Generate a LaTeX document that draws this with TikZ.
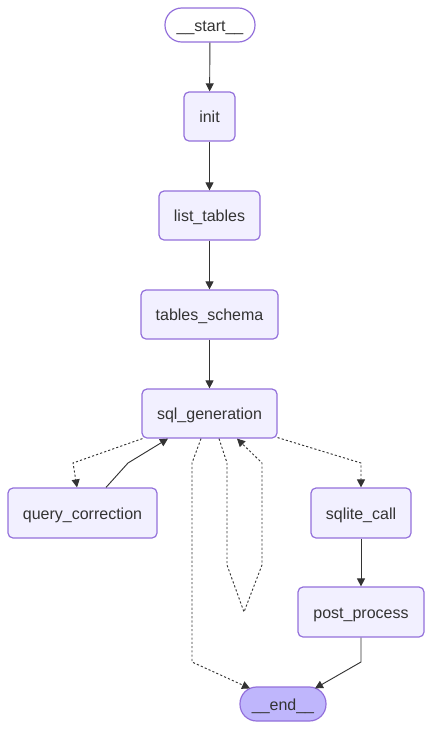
\documentclass[tikz,border=0pt]{standalone}
\usepackage{fontspec}
\setmainfont{Liberation Sans}
\usetikzlibrary{arrows.meta,calc}
\definecolor{nodefill}{HTML}{F2F0FF}
\definecolor{nodestroke}{HTML}{9370DB}
\definecolor{endfill}{HTML}{BFB6FC}
\definecolor{linecol}{HTML}{333333}
\begin{document}
\begin{tikzpicture}[x=0.75pt,y=-0.75pt,
  box/.style={draw=nodestroke,fill=nodefill,line width=0.9pt,rounded corners=3.75pt,inner sep=0pt,
    minimum height=36.75pt,text=linecol,font=\fontsize{12}{14}\selectfont,
    text height=1.02em,text depth=0.08em},
  term/.style={box,rounded corners=12.5pt,minimum height=25.5pt},
  edge/.style={draw=linecol,line width=0.7pt,-{Triangle[length=6pt,width=6pt]}},
  dedge/.style={edge,dash pattern=on 1.6pt off 1.6pt}]
\useasboundingbox (0,0) rectangle (432,729);
\node[term,fill=white,minimum width=67.5pt] (start) at (210,25) {\_\_start\_\_};
\node[box,minimum width=38.25pt] (init) at (209.5,116.5) {init};
\node[box,minimum width=75.75pt] (list) at (209.5,215.5) {list\_tables};
\node[box,minimum width=102.75pt] (schema) at (209.5,314.5) {tables\_schema};
\node[box,minimum width=101.25pt] (sqlg) at (209.5,413.5) {sql\_generation};
\node[box,minimum width=111.75pt,minimum height=37.5pt] (qc) at (82.5,513) {query\_correction};
\node[box,minimum width=75pt,minimum height=37.5pt] (sqlite) at (361,513) {sqlite\_call};
\node[box,minimum width=94.5pt,minimum height=37.5pt] (post) at (361,612) {post\_process};
\node[term,fill=endfill,minimum width=64.5pt] (end) at (283,704) {\_\_end\_\_};
\draw[edge] (start) -- (init);
\draw[edge] (init) -- (list);
\draw[edge] (list) -- (schema);
\draw[edge] (schema) -- (sqlg);
\draw[dedge] ($(sqlg.south west)+(1,0)$) -- (73,463) -- ($(qc.north)+(-5.5,0)$);
\draw[edge] ($(qc.north)+(23.5,0)$) -- (128,463) -- ($(sqlg.south)+(-41.5,0)$);
\draw[dedge] ($(sqlg.south)+(-8.5,0)$) -- (192,463) -- (192,662) -- ($(end.north)+(-33,2)$);
\draw[dedge] ($(sqlg.south)+(9.5,0)$) -- (227,463) -- (227,565) -- (244,612) -- (262,565) -- (262,463) -- ($(sqlg.south)+(27.5,0)$);
\draw[dedge] ($(sqlg.south east)+(0,-1)$) -- (361,463) -- (sqlite.north);
\draw[edge] (sqlite) -- (post);
\draw[edge] (post.south) -- (361,662) -- ($(end.north)+(32,2)$);
\end{tikzpicture}
\end{document}
